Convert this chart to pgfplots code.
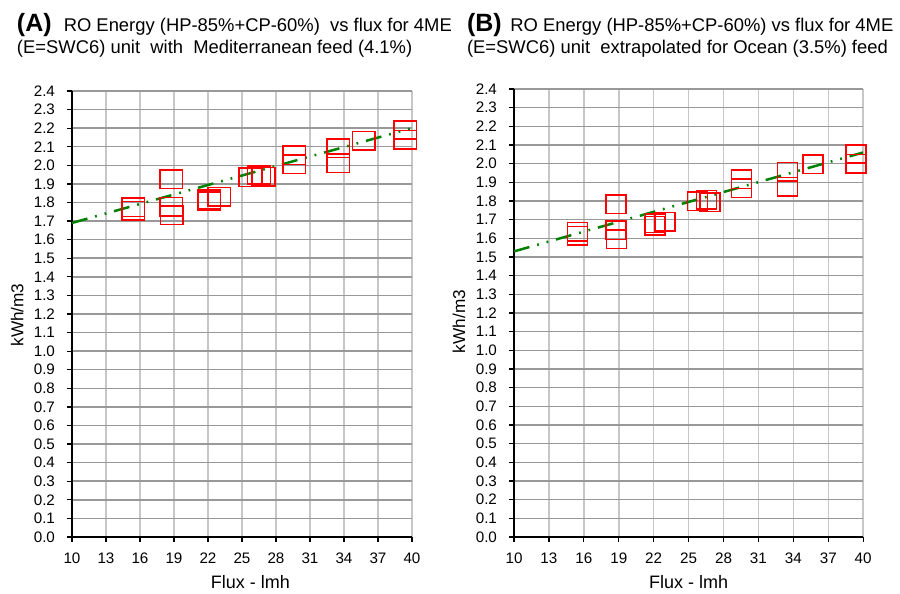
\documentclass[border=0pt]{standalone}
\usepackage{fontspec}
\setmainfont{Liberation Sans}
\usepackage{pgfplots}
\pgfplotsset{compat=1.18}
\definecolor{trendgreen}{RGB}{0,128,0}

\pgfplotsset{
  rochart/.style={
    scale only axis,
    anchor=south west,
    xmin=10, xmax=40, ymin=0, ymax=2.4,
    xtick={10,13,16,19,22,25,28,31,34,37,40},
    ytick={0.0,0.1,0.2,0.3,0.4,0.5,0.6,0.7,0.8,0.9,1.0,1.1,1.2,1.3,1.4,1.5,1.6,1.7,1.8,1.9,2.0,2.1,2.2,2.3,2.4},
    axis x line*=bottom, axis y line*=left,
    axis line style={-, black, line width=1pt},
    tick align=outside, major tick length=2.5pt,
    tick style={black, line width=0.6pt},
    xmajorgrids, ymajorgrids,
    x grid style={black!22, line width=0.75pt},
    y grid style={black!40, line width=0.75pt},
    /pgf/number format/assume math mode=true,
    yticklabel style={font=\fontsize{7.6}{9}\selectfont, xshift=-2.5pt,
      /pgf/number format/.cd, fixed, fixed zerofill, precision=1},
    xticklabel style={font=\fontsize{7.6}{9}\selectfont, yshift=-2pt},
  },
  boxes/.style={only marks, mark=square, mark size=4.6pt,
    mark options={draw=red, fill=none, line width=0.8pt, xscale=#1}},
  trend/.style={no marks, draw=trendgreen, line width=1.25pt,
    dash pattern=on 8pt off 4pt on 0.9pt off 4pt on 0.9pt off 4pt},
}

\begin{document}
\begin{tikzpicture}
\path[use as bounding box] (0,0) rectangle (450pt,297pt);

% panel A
\begin{axis}[rochart, at={(36pt,28.5pt)}, width=170pt, height=223pt]
\addplot[boxes=1.23] coordinates {
  (15.4,1.775) (15.4,1.755)
  (18.75,1.925) (18.75,1.777) (18.8,1.732)
  (22.1,1.818) (22.1,1.808) (23.0,1.832)
  (25.75,1.935) (26.5,1.948) (26.9,1.938)
  (29.6,2.055) (29.6,2.006)
  (33.5,2.092) (33.5,2.010)
  (35.75,2.133)
  (39.4,2.19) (39.4,2.138)
};
\addplot[trend] coordinates {(10,1.69) (39.8,2.197)};
\end{axis}

% panel B
\begin{axis}[rochart, at={(257pt,28.5pt)}, width=174.6pt, height=224pt]
\addplot[boxes=1.09] coordinates {
  (15.45,1.636) (15.45,1.615)
  (18.75,1.783) (18.75,1.643) (18.8,1.595)
  (22.15,1.680) (22.1,1.667) (22.95,1.690)
  (25.75,1.799) (26.55,1.807) (26.85,1.794)
  (29.55,1.917) (29.55,1.868)
  (33.5,1.956) (33.5,1.876)
  (35.7,1.996)
  (39.4,2.052) (39.4,1.999)
};
\addplot[trend] coordinates {(10,1.53) (40,2.06)};
\end{axis}

% titles
\node[anchor=base west, inner sep=0, font=\fontsize{12.5}{14}\selectfont\bfseries] at (8.3pt,281.2pt) {(A)};
\node[anchor=base west, inner sep=0, font=\fontsize{9.2}{11}\selectfont] at (31.7pt,281.2pt) {RO Energy (HP-85\%+CP-60\%)\ \ vs flux for 4ME};
\node[anchor=base west, inner sep=0, font=\fontsize{9.2}{11}\selectfont] at (8.3pt,270.2pt) {(E=SWC6) unit\ \ with\ \ Mediterranean feed (4.1\%)};

\node[anchor=base west, inner sep=0, font=\fontsize{12.5}{14}\selectfont\bfseries] at (233.3pt,281.2pt) {(B)};
\node[anchor=base west, inner sep=0, font=\fontsize{9.2}{11}\selectfont] at (255pt,281.2pt) {RO Energy (HP-85\%+CP-60\%) vs flux for 4ME};
\node[anchor=base west, inner sep=0, font=\fontsize{9.2}{11}\selectfont] at (233.3pt,270.2pt) {(E=SWC6) unit\ \ extrapolated for Ocean (3.5\%) feed};

% axis titles
\node[rotate=90, anchor=base, inner sep=0, font=\fontsize{8.6}{10}\selectfont] at (11.7pt,139.5pt) {kWh/m3};
\node[rotate=90, anchor=base, inner sep=0, font=\fontsize{8.6}{10}\selectfont] at (232.5pt,136.2pt) {kWh/m3};
\node[anchor=base, inner sep=0, font=\fontsize{9}{11}\selectfont] at (125.2pt,2.5pt) {Flux - lmh};
\node[anchor=base, inner sep=0, font=\fontsize{9}{11}\selectfont] at (344.3pt,2.5pt) {Flux - lmh};
\end{tikzpicture}
\end{document}
